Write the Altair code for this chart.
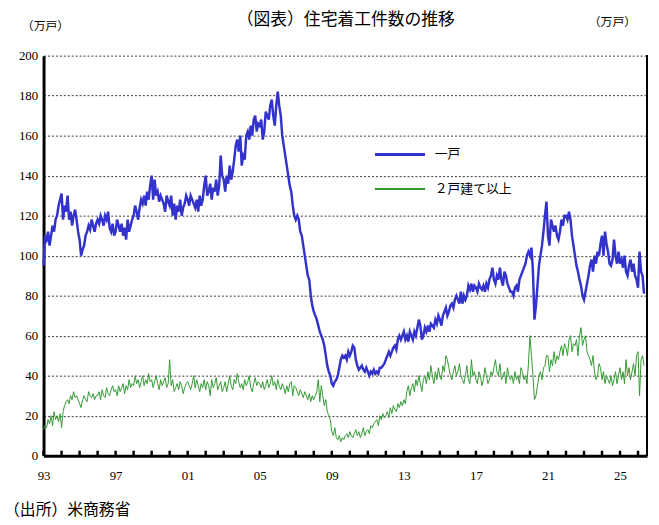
import pandas as pd
import altair as alt

# monthly values, 万戸 (SAAR), Jan 1993 onward
single = [
    95, 110, 108, 112, 105, 110, 115, 112, 118, 120, 125, 128,
    131, 118, 125, 122, 130, 118, 122, 115, 120, 123, 118, 112,
    108, 100, 103, 105, 110, 112, 115, 113, 118, 115, 112, 116,
    118, 116, 120, 118, 115, 120, 118, 122, 114, 112, 116, 110,
    112, 118, 115, 112, 116, 110, 114, 108, 118, 112, 115, 118,
    120, 125, 122, 118, 124, 128, 126, 130, 125, 132, 128, 135,
    140, 128, 138, 130, 132, 127, 130, 128, 126, 122, 130, 127,
    125, 130, 120, 126, 118, 125, 122, 128, 120, 124, 126, 130,
    128, 125, 130, 128, 126, 124, 128, 122, 130, 125, 128, 135,
    140, 130, 132, 136, 128, 134, 132, 138, 130, 135, 150, 140,
    138, 132, 140, 136, 145, 138, 142, 148, 155, 158, 152, 160,
    145, 150, 148, 160, 162, 158, 165, 160, 168, 170, 162, 166,
    165, 168, 158, 162, 172, 170, 168, 175, 178, 170, 165, 175,
    182, 175, 170, 160, 155, 150, 145, 140, 135, 132, 125, 120,
    118, 120, 118, 112, 110, 105, 100, 95, 90, 88, 80, 75,
    72, 70, 68, 65, 62, 60, 58, 55, 50, 45, 42, 40,
    36, 35, 37, 38, 40, 44, 48, 50, 49, 50, 48, 52,
    50, 52, 55, 54, 48, 45, 43, 44, 45, 43, 42, 44,
    42, 40, 42, 41, 43, 41, 42, 41, 44, 44, 45, 46,
    48, 50, 52, 50, 52, 54, 55, 53, 58, 60, 58, 60,
    62, 58, 60, 57, 62, 60, 58, 62, 60, 64, 68, 65,
    58, 60, 64, 62, 65, 62, 66, 65, 64, 68, 66, 70,
    68, 65, 70, 72, 74, 70, 72, 75, 76, 74, 78, 80,
    78, 76, 82, 76, 80, 78, 80, 85, 83, 86, 82, 85,
    84, 82, 86, 84, 83, 85, 82, 86, 84, 88, 90, 94,
    88, 86, 90, 88, 94, 88, 85, 92, 90, 86, 84, 82,
    82, 80, 84, 85, 82, 88, 90, 92, 94, 96, 100, 102,
    100, 104, 92, 68, 75, 85, 95, 100, 105, 112, 120, 127,
    110, 105, 118, 115, 112, 115, 110, 108, 112, 118, 115, 120,
    120, 118, 122, 118, 110, 105, 100, 95, 92, 88, 85, 80,
    78, 82, 86, 90, 95, 98, 92, 100, 96, 102, 100, 106,
    110, 100, 112, 106, 102, 96, 95, 98, 108, 100, 96, 102,
    96, 98, 94, 100, 92, 90, 95, 98, 92, 96, 90, 88,
    84, 102, 92, 90, 81,
]
multi = [
    13, 15, 14, 18, 16, 20, 15, 22, 18, 20, 17, 21,
    14, 22, 25, 27, 28, 26, 30, 28, 32, 29, 30, 28,
    26, 24, 28, 30, 28, 27, 32, 30, 29, 31, 28, 30,
    30, 32, 28, 33, 30, 29, 34, 31, 30, 33, 35, 32,
    33, 30, 35, 32, 34, 36, 31, 35, 33, 38, 34, 36,
    35, 40, 36, 38, 34, 37, 40, 35, 38, 36, 41, 37,
    38, 34, 37, 40, 36, 33, 38, 35, 37, 39, 34, 36,
    48, 35, 38, 32, 34, 36, 33, 37, 35, 31, 34, 36,
    37, 35, 33, 36, 40, 34, 38, 35, 32, 36, 34, 38,
    33, 37, 35, 30, 38, 34, 36, 39, 33, 35, 37, 32,
    34, 37, 32, 36, 40, 35, 33, 38, 36, 41, 37, 34,
    36, 33, 38, 35, 37, 40, 34, 32, 36, 39, 35, 37,
    36, 34, 37, 33, 35, 38, 34, 36, 40, 35, 37, 33,
    38, 35, 33, 36, 34, 31, 35, 32, 36, 37, 30, 35,
    34, 32, 30, 33, 31, 29, 32, 30, 28, 31, 27, 30,
    28, 30, 32, 38, 27, 35, 30, 25, 28, 22, 20, 18,
    12, 10, 14, 9, 8, 10, 7, 9, 8, 10, 11, 9,
    12, 10, 9, 11, 13, 10, 12, 9, 11, 14, 10, 12,
    13, 11, 15, 14, 16, 17, 18, 15, 20, 18, 21, 19,
    20, 22, 19, 24, 21, 25, 23, 22, 26, 24, 27, 25,
    28, 26, 32, 35, 30, 34, 36, 32, 38, 35, 40, 36,
    32, 38, 40, 36, 42, 38, 45, 40, 36, 42, 38, 44,
    40, 38, 45, 42, 50, 48, 44, 40, 38, 42, 45, 40,
    42, 46, 40, 38, 36, 40, 45, 38, 36, 48, 40, 42,
    38, 36, 42, 40, 35, 38, 44, 40, 36, 38, 42, 40,
    44, 48, 42, 40, 46, 38, 40, 42, 36, 44, 40, 38,
    40, 36, 42, 38, 40, 36, 44, 42, 38, 40, 36, 46,
    60, 50, 40, 28, 30, 35, 40, 42, 38, 44, 45, 50,
    50, 42, 48, 45, 52, 46, 50, 48, 52, 55, 50, 56,
    54, 50, 58, 60, 52, 56, 55, 58, 50, 60, 64, 55,
    58, 60, 52, 50, 48, 45, 50, 42, 38, 40, 46, 44,
    38, 42, 36, 40, 38, 36, 40, 35, 38, 42, 36, 40,
    44, 38, 42, 36, 48, 40, 44, 38, 42, 46, 40, 50,
    52, 30, 48, 50, 45,
]
series_names = ["一戸", "２戸建て以上"]
series_colors = ["#3333cc", "#339933"]
year_ticks = list(range(1993, 2027))

rows = []
for name, vals in zip(series_names, [single, multi]):
    for i, v in enumerate(vals):
        rows.append({"t": 1993 + i / 12, "v": v, "s": name})
df = pd.DataFrame(rows)
ticks_df = pd.DataFrame({"t": year_ticks})

W, H = 611, 405
SERIF = "Liberation Serif"
JP = "Noto Sans CJK JP"

xscale = alt.Scale(domain=[1993, 2026.5], nice=False)
x = alt.X("t:Q", scale=xscale,
          axis=alt.Axis(values=year_ticks, title=None, grid=False, ticks=False,
                        labelExpr="slice(toString(datum.value), 2)",
                        labelFont=SERIF, labelFontSize=13, labelColor="black",
                        labelPadding=14, labelOverlap=False, labelFlush=False,
                        domainColor="black", domainWidth=3))
y = alt.Y("v:Q", scale=alt.Scale(domain=[0, 200], nice=False),
          axis=alt.Axis(values=list(range(0, 201, 20)), title=None,
                        grid=True, gridColor="black", gridDash=[2, 2], gridWidth=0.8,
                        labelFont=SERIF, labelFontSize=13, labelColor="black",
                        ticks=False, domainColor="black", domainWidth=3, labelPadding=6))

lines = alt.Chart(df).encode(x=x, y=y)
blue = lines.transform_filter(alt.datum.s == series_names[0]).mark_line(
    color=series_colors[0], strokeWidth=2.5)
green = lines.transform_filter(alt.datum.s == series_names[1]).mark_line(
    color=series_colors[1], strokeWidth=1)

inward_ticks = alt.Chart(ticks_df).mark_rule(color="black", strokeWidth=2.5).encode(
    x=alt.X("t:Q", scale=xscale), y=alt.value(H), y2=alt.value(H - 5))

right = alt.Chart(ticks_df).mark_rule(color="black", strokeWidth=1.5).encode(
    x=alt.value(W), y=alt.value(0), y2=alt.value(H))

leg_line1 = alt.Chart(ticks_df).mark_rule(color=series_colors[0], strokeWidth=2.5).encode(
    x=alt.value(336), x2=alt.value(386), y=alt.value(100))
leg_line2 = alt.Chart(ticks_df).mark_rule(color=series_colors[1], strokeWidth=1).encode(
    x=alt.value(336), x2=alt.value(386), y=alt.value(135))


def label(txt, px, py, size=13, align="left"):
    return alt.Chart(pd.DataFrame({"t": [txt]})).mark_text(
        font=JP, fontSize=size, align=align, baseline="middle", color="black"
    ).encode(text="t:N", x=alt.value(px), y=alt.value(py))


texts = [
    label(series_names[0], 396, 100),
    label(series_names[1], 396, 135),
    label("（図表）住宅着工件数の推移", 306, -36, size=17, align="center"),
    label("（万戸）", -22, -30, size=12),
    label("（万戸）", 552, -34, size=12),
    label("（出所）米商務省", -40, 460, size=16),
]

chart = alt.layer(blue, green, inward_ticks, right, leg_line1, leg_line2, *texts).properties(
    width=W, height=H,
    autosize=alt.AutoSizeParams(type="none"),
    padding={"left": 36, "top": 45, "right": 4, "bottom": 70},
).configure_view(stroke=None)

chart.save("out.html", embed_options={"renderer": "svg", "actions": False})
